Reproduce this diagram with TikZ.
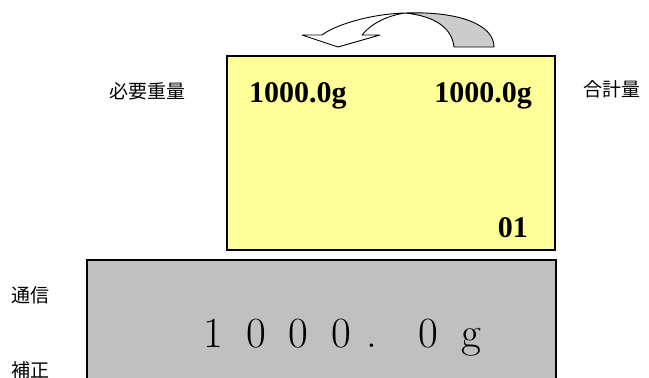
\documentclass[tikz,border=0pt]{standalone}
\usepackage{fontspec}
\newfontfamily\cjk{Noto Sans CJK JP}
\newfontfamily\numfont{Liberation Serif}
\definecolor{lcdyellow}{HTML}{FFFF99}
\definecolor{lcdgray}{HTML}{C0C0C0}
\definecolor{backgray}{HTML}{CCCCCC}
\begin{document}
\begin{tikzpicture}[x=1pt,y=-1pt,
  lbl/.style={inner sep=0pt,font=\cjk\fontsize{19}{19}\selectfont},
  bignum/.style={inner sep=0pt,font=\numfont\bfseries\fontsize{30}{30}\selectfont},
  dig/.style={inner sep=0pt,anchor=base,font=\fontsize{43}{43}\selectfont},
  panel/.style={draw=black,line width=1.5pt}]
\useasboundingbox (0,0) rectangle (649,378);
\clip (0,0) rectangle (649,378);
% yellow sub display
\node[panel,fill=lcdyellow,minimum width=328pt,minimum height=194pt,anchor=north west,inner sep=0pt] (sub) at (226,55) {};
\node[bignum,anchor=base west] (req) at (249,102) {1000.0g};
\node[bignum,anchor=base east] (tot) at (532,102) {1000.0g};
\node[bignum,anchor=base east] (cnt) at (528,237) {01};
% gray main display
\node[panel,fill=lcdgray,minimum width=469pt,minimum height=140pt,anchor=north west,inner sep=0pt] (main) at (86,259) {};
\node[dig] (d1) at (213,347) {1};
\node[dig] (d2) at (256.5,347) {0};
\node[dig] (d3) at (298,347) {0};
\node[dig] (d4) at (341.5,347) {0};
\node[dig] (d5) at (371.5,347) {.};
\node[dig] (d6) at (428.5,347) {0};
\node[dig] (d7) at (471.5,347) {g};
% labels
\node[lbl] (l1) at (147.5,91) {必要重量};
\node[lbl] (l2) at (612,89) {合計量};
\node[lbl] (l3) at (30.5,295) {通信};
\node[lbl] (l4) at (30.5,370) {補正};
% curved arrow (twisted ribbon)
\coordinate (tw) at (405,13);
\coordinate (tr) at (494,47);
\coordinate (tl) at (454,47);
\draw[fill=backgray,line width=0.9pt,line join=round] (tw) .. controls (460,11) and (494,25) .. (tr) -- (tl) .. controls (452,28) and (435,16) .. (tw) -- cycle;
\draw[fill=white,line width=0.9pt,line join=round] (tw) .. controls (370,14) and (335,25) .. (322,35) -- (302,35) -- (338,47) -- (380,35) -- (362,35) .. controls (370,25) and (385,16) .. (tw) -- cycle;
\end{tikzpicture}
\end{document}
